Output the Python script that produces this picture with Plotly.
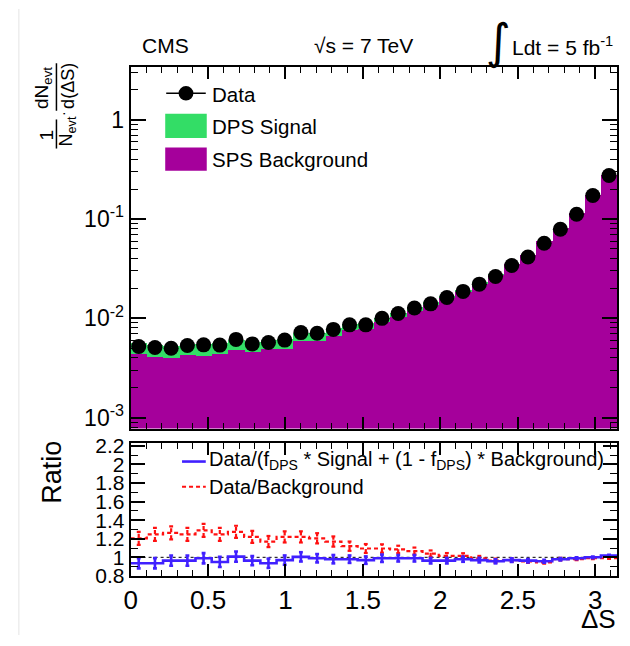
import numpy as np
import plotly.graph_objects as go

W, H = 630, 646

# ---------------- data ----------------
n_bins = 30
x_min, x_max = 0.0, float(np.pi)

data_vals = [5.21e-3, 5.09e-3, 5.01e-3, 5.33e-3, 5.41e-3, 5.38e-3, 6.14e-3, 5.53e-3, 5.71e-3, 6.04e-3,
             7.19e-3, 7.08e-3, 7.74e-3, 8.61e-3, 8.60e-3, 1.00e-2, 1.12e-2, 1.27e-2, 1.40e-2, 1.62e-2,
             1.87e-2, 2.21e-2, 2.64e-2, 3.41e-2, 4.15e-2, 5.71e-2, 7.91e-2, 0.112, 0.173, 0.275]

ratio_fit = [0.936, 0.936, 0.964, 0.964, 0.990, 0.950, 1.008, 0.964, 0.936, 0.970,
             1.005, 0.990, 0.980, 0.980, 0.970, 0.990, 0.990, 0.990, 0.964, 0.964,
             0.980, 0.970, 0.957, 0.970, 0.964, 0.957, 0.980, 0.990, 1.000, 1.020]
err_fit = [0.055, 0.055, 0.055, 0.055, 0.055, 0.055, 0.055, 0.050, 0.050, 0.050,
           0.050, 0.045, 0.045, 0.040, 0.040, 0.040, 0.035, 0.035, 0.030, 0.030,
           0.028, 0.025, 0.022, 0.020, 0.018, 0.015, 0.013, 0.011, 0.009, 0.007]

ratio_bkg = [1.205, 1.247, 1.264, 1.247, 1.290, 1.247, 1.275, 1.220, 1.170, 1.220,
             1.220, 1.205, 1.170, 1.120, 1.095, 1.095, 1.085, 1.067, 1.040, 1.016,
             1.016, 0.990, 0.964, 0.970, 0.957, 0.946, 0.980, 0.980, 0.990, 0.990]
err_bkg = [0.070, 0.070, 0.070, 0.070, 0.070, 0.070, 0.065, 0.065, 0.060, 0.060,
           0.060, 0.055, 0.055, 0.050, 0.048, 0.045, 0.040, 0.038, 0.034, 0.030,
           0.028, 0.025, 0.022, 0.020, 0.018, 0.015, 0.013, 0.011, 0.009, 0.007]

major_y_top = [1e-3, 1e-2, 1e-1, 1.0]
major_y_top_text = ["10<sup>-3</sup>", "10<sup>-2</sup>", "10<sup>-1</sup>", "1"]
ratio_ticks = [0.8, 1.0, 1.2, 1.4, 1.6, 1.8, 2.0, 2.2]
ratio_ticktext = ["0.8", "1", "1.2", "1.4", "1.6", "1.8", "2", "2.2"]
x_ticks = [0, 0.5, 1, 1.5, 2, 2.5, 3]
x_ticktext = ["0", "0.5", "1", "1.5", "2", "2.5", "3"]

# ---------------- derived ----------------
edges = np.linspace(x_min, x_max, n_bins + 1)
centers = 0.5 * (edges[:-1] + edges[1:])
bw = edges[1] - edges[0]
d = np.array(data_vals)
bkg = d / np.array(ratio_bkg)
total = d / np.array(ratio_fit)
sig = np.clip(total - bkg, 0, None)

PURPLE = "#a5009b"
GREEN = "#33dd66"
BLUE = "#4020ff"
RED = "#ff1010"
FONT = "Liberation Sans"


def px(x):
    return x / W


def py(y):
    return 1 - y / H


xdom = [px(125), px(617)]
ydom_top = [py(433), py(60)]
ydom_rat = [py(585), py(448)]

fig = go.Figure()

fig.add_trace(go.Bar(x=centers, y=bkg, width=bw, marker=dict(color=PURPLE, line=dict(width=0)),
                     xaxis="x", yaxis="y", showlegend=False))
fig.add_trace(go.Bar(x=centers, y=sig, width=bw, marker=dict(color=GREEN, line=dict(width=0)),
                     xaxis="x", yaxis="y", showlegend=False))
fig.add_trace(go.Scatter(x=centers, y=d, mode="markers", marker=dict(color="black", size=15),
                         xaxis="x", yaxis="y", showlegend=False))

# ratio panel
fig.add_trace(go.Scatter(x=[x_min, x_max], y=[1, 1], mode="lines",
                         line=dict(color="black", width=1, dash="dot"),
                         xaxis="x2", yaxis="y2", showlegend=False))


def seg_xy(vals, errs):
    xs, ys = [], []
    for c, v, e in zip(centers, vals, errs):
        xs += [c, c, None, c - bw * 0.12, c + bw * 0.12, None, c - bw * 0.12, c + bw * 0.12, None]
        ys += [v - e, v + e, None, v - e, v - e, None, v + e, v + e, None]
    return xs, ys


ex, ey = seg_xy(ratio_bkg, err_bkg)
fig.add_trace(go.Scatter(x=ex, y=ey, mode="lines", line=dict(color=RED, width=2.2, dash="4px,3px"),
                         xaxis="x2", yaxis="y2", showlegend=False))
fig.add_trace(go.Scatter(x=list(edges), y=list(ratio_bkg) + [ratio_bkg[-1]], mode="lines", line_shape="hv",
                         line=dict(color=RED, width=2.2, dash="4px,3px"),
                         xaxis="x2", yaxis="y2", showlegend=False))
ex, ey = seg_xy(ratio_fit, err_fit)
fig.add_trace(go.Scatter(x=ex, y=ey, mode="lines", line=dict(color=BLUE, width=2.6),
                         xaxis="x2", yaxis="y2", showlegend=False))
fig.add_trace(go.Scatter(x=list(edges), y=list(ratio_fit) + [ratio_fit[-1]], mode="lines", line_shape="hv",
                         line=dict(color=BLUE, width=2.6),
                         xaxis="x2", yaxis="y2", showlegend=False))

minor_log = [k * 10.0 ** e for e in range(-4, 1) for k in range(2, 10)]

axis_common = dict(showline=True, linecolor="black", linewidth=2, mirror="allticks",
                   showgrid=False, zeroline=False, ticks="inside", tickcolor="black", tickwidth=1.5)

fig.update_layout(
    width=W, height=H,
    margin=dict(l=0, r=0, t=0, b=0),
    paper_bgcolor="white", plot_bgcolor="white",
    barmode="stack", bargap=0,
    font=dict(family=FONT, color="black"),
    xaxis=dict(domain=xdom, anchor="y", range=[x_min, x_max], showticklabels=False,
               tickmode="array", tickvals=x_ticks, ticklen=12,
               minor=dict(ticks="inside", ticklen=6, dtick=0.1, tick0=0, tickcolor="black", tickwidth=1.2),
               **axis_common),
    yaxis=dict(domain=ydom_top, anchor="x", type="log", range=[-3.11, 0.53],
               tickmode="array", tickvals=major_y_top, ticktext=major_y_top_text, ticklen=15,
               tickfont=dict(size=23, family=FONT),
               minor=dict(ticks="inside", ticklen=7, tickvals=minor_log, tickcolor="black", tickwidth=1.2),
               **axis_common),
    xaxis2=dict(domain=xdom, anchor="y2", range=[x_min, x_max],
                tickmode="array", tickvals=x_ticks, ticktext=x_ticktext, ticklen=12,
                tickfont=dict(size=26, family=FONT),
                minor=dict(ticks="inside", ticklen=6, dtick=0.1, tick0=0, tickcolor="black", tickwidth=1.2),
                **axis_common),
    yaxis2=dict(domain=ydom_rat, anchor="x2", range=[0.8, 2.23],
                tickmode="array", tickvals=ratio_ticks, ticktext=ratio_ticktext, ticklen=14,
                tickfont=dict(size=21, family=FONT),
                minor=dict(ticks="inside", ticklen=7, dtick=0.1, tick0=0.8, tickcolor="black", tickwidth=1.2),
                **axis_common),
)

ann = []
shapes = []


def text(x, y, s, size=20, xanchor="left", yanchor="middle", angle=0, family=FONT):
    ann.append(dict(x=px(x), y=py(y), xref="paper", yref="paper", text=s, showarrow=False,
                    xanchor=xanchor, yanchor=yanchor, textangle=angle, borderpad=0,
                    font=dict(size=size, family=family, color="black")))


# header
text(160, 38, "CMS", 21, "center")
text(360, 38, "√s = 7 TeV", 21, "center")
text(497, 33, "∫", 48, "center", family="DejaVu Sans")
text(510, 38, "Ldt = 5 fb<sup>-1</sup>", 21, "left")

# top legend
shapes.append(dict(type="line", xref="paper", yref="paper", x0=px(161), x1=px(201), y0=py(87), y1=py(87),
                   line=dict(color="black", width=1.5)))
shapes.append(dict(type="circle", xref="paper", yref="paper", x0=px(173.5), x1=px(188.5), y0=py(94.5), y1=py(79.5),
                   fillcolor="black", line=dict(color="black", width=0)))
text(206, 88, "Data", 20.5)
shapes.append(dict(type="rect", xref="paper", yref="paper", x0=px(160), x1=px(202), y0=py(133), y1=py(108),
                   fillcolor=GREEN, line=dict(width=0)))
text(206, 121, "DPS Signal", 20.5)
shapes.append(dict(type="rect", xref="paper", yref="paper", x0=px(160), x1=px(202), y0=py(167), y1=py(143),
                   fillcolor=PURPLE, line=dict(width=0)))
text(206, 155, "SPS Background", 20.5)

# ratio legend
shapes.append(dict(type="line", xref="paper", yref="paper", x0=px(177), x1=px(201), y0=py(467), y1=py(467),
                   line=dict(color=BLUE, width=2.6)))
text(203, 466, "Data/(f<sub>DPS</sub> * Signal + (1 - f<sub>DPS</sub>) * Background)", 20)
shapes.append(dict(type="line", xref="paper", yref="paper", x0=px(177), x1=px(201), y0=py(493), y1=py(493),
                   line=dict(color=RED, width=2.2, dash="4px,3px")))
text(203, 493, "Data/Background", 20)

# y title (fraction), rotated
text(40, 130, "1", 19, "center", "middle", -90)
shapes.append(dict(type="line", xref="paper", yref="paper", x0=px(50), x1=px(50), y0=py(114), y1=py(144),
                   line=dict(color="black", width=1.5)))
text(61, 126, "N<sub>evt</sub>", 18, "center", "middle", -90)
text(56, 108, "·", 14, "center", "middle", -90)
text(37, 82, "dN<sub>evt</sub>", 19, "center", "middle", -90)
shapes.append(dict(type="line", xref="paper", yref="paper", x0=px(50), x1=px(50), y0=py(56), y1=py(105),
                   line=dict(color="black", width=1.5)))
text(61, 79, "d(ΔS)", 18, "center", "middle", -90)

text(46, 478, "Ratio", 27, "center", "middle", -90)
text(617, 630, "ΔS", 26, "right", "middle")

# faint frame artefact on the left
shapes.append(dict(type="line", xref="paper", yref="paper", x0=px(12), x1=px(12), y0=0, y1=1,
                   line=dict(color="#e4e4e4", width=1)))

fig.update_layout(annotations=ann, shapes=shapes)
fig.write_html("out.html")
